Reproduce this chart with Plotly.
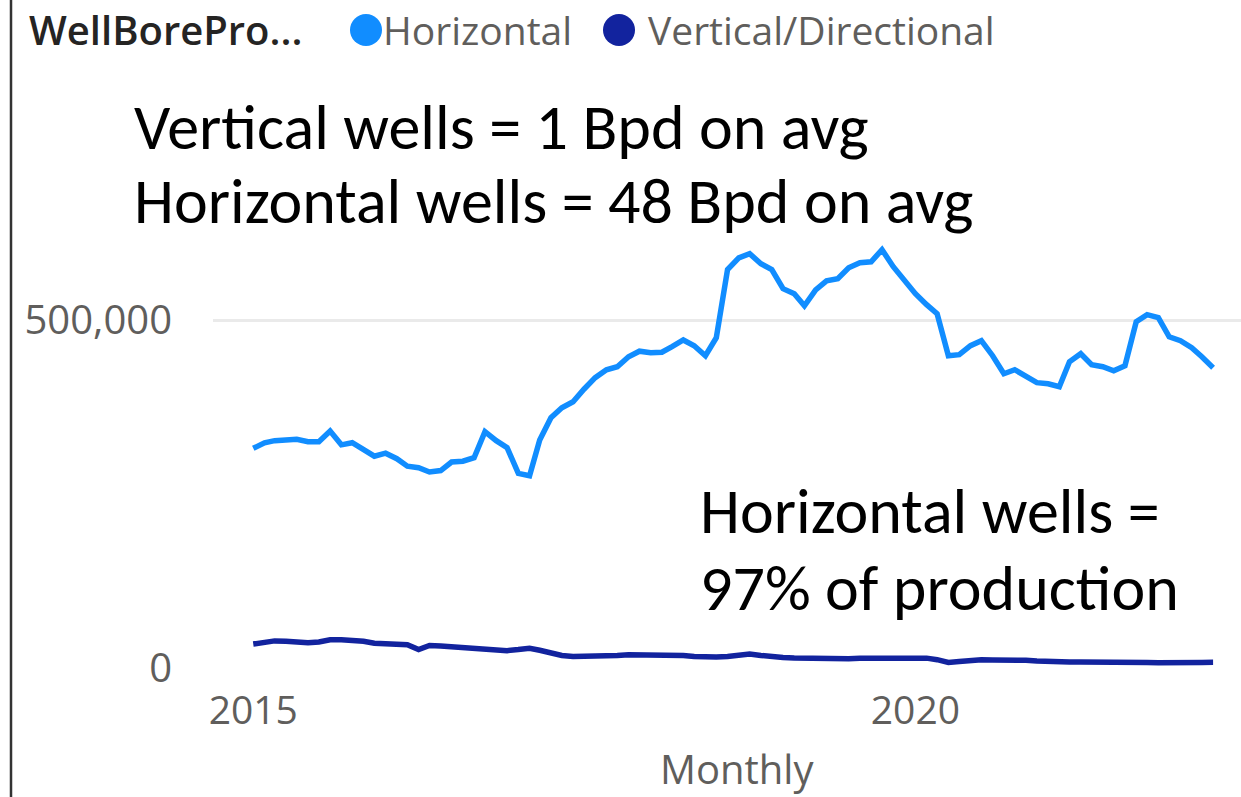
import pandas as pd
import plotly.graph_objects as go

# ---------------- data ----------------
months = pd.date_range("2015-01-01", periods=88, freq="MS")

horizontal = [
    316000, 324000, 327000, 329000, 329000, 325500, 325500, 341000, 321000, 324000,
    313000, 304700, 309000, 301000, 290300, 288000, 282000, 284000, 296300, 297500,
    302500, 340000, 327000, 317000, 280000, 276600, 328000, 360000, 374400, 383000,
    401000, 417600, 429000, 433400, 447800, 455700, 453500, 454200, 462200, 471800,
    463600, 449200, 475000, 573000, 590000, 596000, 581500, 573000, 545600, 538400,
    521000, 544000, 557000, 560000, 575800, 583000, 584400, 601700, 577200, 557000,
    538400, 522600, 509600, 449200, 450700, 463600, 470800, 449200, 423300, 429100,
    420400, 410400, 408900, 404600, 440600, 452100, 436300, 433400, 427600, 434800,
    498100, 508200, 503900, 476500, 470800, 460700, 447800, 432000,
]

vertical = [
    34500, 37500, 39000, 38500, 37400, 36500, 37500, 40700, 40700, 40500,
    38500, 35500, 34300, 34000, 33500, 26500, 32500, 31500, 30500, 29000,
    28500, 28000, 27800, 25000, 26500, 28500, 25500, 22000, 18000, 16700,
    16700, 16800, 17500, 18000, 19000, 19000, 19000, 19100, 18500, 18000,
    16500, 15500, 16000, 16700, 18500, 20000, 18000, 16000, 15000, 14400,
    14000, 14000, 13800, 13500, 13400, 14000, 14500, 15000, 14000, 14000,
    14400, 14200, 12000, 8000, 9500, 11500, 11900, 11500, 11900, 11900,
    11000, 10000, 9000, 8600, 8600, 8600, 8800, 8800, 8800, 8800,
    8500, 8000, 7500, 7200, 7400, 7800, 8000, 8100,
]

series_names = ["Horizontal", "Vertical/Directional"]
series_colors = ["#118DFF", "#12239E"]

y_tick_vals = [0, 500000]
y_tick_text = ["0", "500,000"]
x_tick_vals = ["2015-01-01", "2020-01-01"]
x_tick_text = ["2015", "2020"]

legend_title = "WellBorePro..."
x_title = "Monthly"
notes_top = ["Vertical wells = 1 Bpd on avg", "Horizontal wells = 48 Bpd on avg"]
notes_bottom = ["Horizontal wells =", "97% of production"]

# ---------------- geometry ----------------
W, H = 1241, 797
L, R, T = 213, 0, 200
B = int(round(H - 668.3))
PW, PH = W - L - R, H - T - B
Y_TOP = 500000 * PH / 347.6


def fx(px):
    return (px - L) / PW


def fy(py):
    return (H - B - py) / PH


GRAY = "#605E5C"
UI_FONT = "Segoe UI, Open Sans, sans-serif"
NOTE_FONT = "Calibri, Carlito, Lato, sans-serif"

fig = go.Figure()
for name, vals, col in zip(series_names, [horizontal, vertical], series_colors):
    fig.add_trace(go.Scatter(
        x=months, y=vals, mode="lines", name=name,
        line=dict(color=col, width=5.5, shape="linear"),
        showlegend=False,
    ))

fig.update_layout(
    width=W, height=H,
    margin=dict(l=L, r=R, t=T, b=B, pad=0),
    paper_bgcolor="white", plot_bgcolor="white",
    showlegend=False,
    font=dict(family=UI_FONT, color=GRAY, size=39),
    xaxis=dict(
        type="date", range=["2014-09-12", "2022-06-17"],
        tickmode="array", tickvals=x_tick_vals, ticktext=x_tick_text,
        showgrid=False, zeroline=False, showline=False, ticks="",
        tickfont=dict(size=39, color=GRAY, family=UI_FONT),
        ticklabelstandoff=16,
    ),
    yaxis=dict(
        range=[0, Y_TOP],
        tickmode="array", tickvals=y_tick_vals, ticktext=y_tick_text,
        showgrid=True, gridcolor="#EAEAEA", gridwidth=3,
        zeroline=False, showline=False, ticks="",
        tickfont=dict(size=40, color=GRAY, family=UI_FONT),
        ticklabelstandoff=40,
    ),
)

# x-axis title (placed where the reference has it)
fig.add_annotation(xref="paper", yref="paper", x=fx(737), y=fy(768),
                   xanchor="center", yanchor="middle", showarrow=False,
                   text=x_title, font=dict(size=40, color=GRAY, family=UI_FONT))

# left border line of the screenshot
fig.add_shape(type="line", xref="paper", yref="paper",
              x0=fx(11), x1=fx(11), y0=fy(H + 20), y1=fy(-20),
              line=dict(color="#333333", width=2.5))

# manual legend
fig.add_annotation(xref="paper", yref="paper", x=fx(27), y=fy(30),
                   xanchor="left", yanchor="middle", showarrow=False,
                   text=legend_title,
                   font=dict(size=40, color="#252423", family=UI_FONT, weight=600))
legend_circles = [(366, 30), (619, 30)]
legend_text_x = [381, 646]
for (cx, cy), tx, name, col in zip(legend_circles, legend_text_x, series_names, series_colors):
    fig.add_shape(type="circle", xref="paper", yref="paper",
                  x0=fx(cx - 16), x1=fx(cx + 16), y0=fy(cy + 16), y1=fy(cy - 16),
                  fillcolor=col, line=dict(width=0))
    fig.add_annotation(xref="paper", yref="paper", x=fx(tx), y=fy(cy),
                       xanchor="left", yanchor="middle", showarrow=False,
                       text=name, font=dict(size=39, color=GRAY, family=UI_FONT))

# text notes
for txt, ym in zip(notes_top, [127, 201]):
    fig.add_annotation(xref="paper", yref="paper", x=fx(132), y=fy(ym),
                       xanchor="left", yanchor="middle", showarrow=False,
                       text=txt, font=dict(size=64, color="black", family=NOTE_FONT))
for txt, ym in zip(notes_bottom, [511, 588]):
    fig.add_annotation(xref="paper", yref="paper", x=fx(698), y=fy(ym),
                       xanchor="left", yanchor="middle", showarrow=False,
                       text=txt, font=dict(size=64, color="black", family=NOTE_FONT))

fig.write_html(
    "out.html",
    config={"displayModeBar": False},
    post_script="document.body.style.margin='0';document.body.style.overflow='hidden';",
)
